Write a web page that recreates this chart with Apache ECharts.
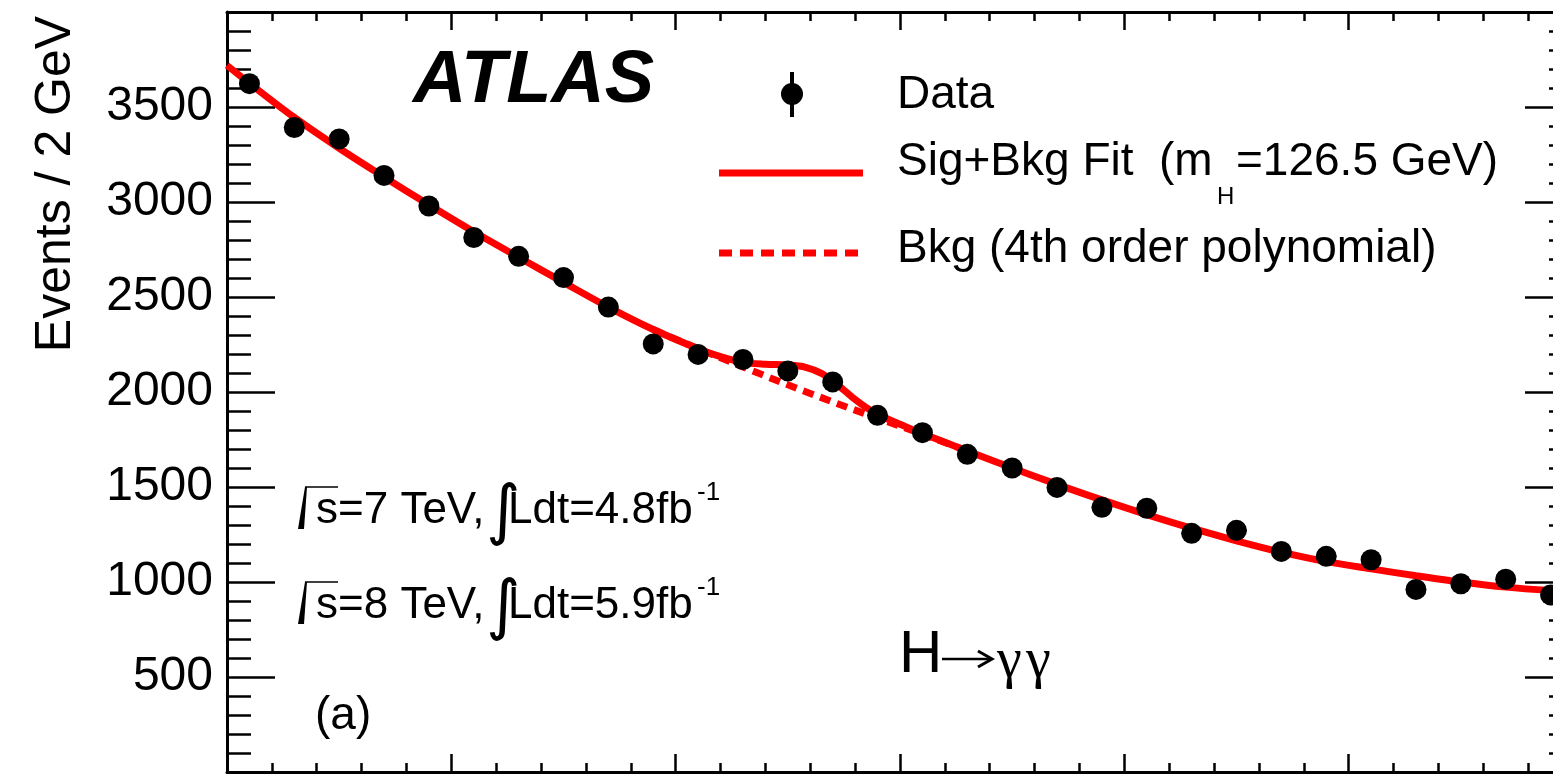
<!DOCTYPE html>
<html>
<head>
<meta charset="utf-8">
<script src="https://cdn.jsdelivr.net/npm/echarts@6/dist/echarts.min.js"></script>
<style>
  html, body { margin: 0; padding: 0; background: #fff; }
  #main { width: 1553px; height: 774px; }
</style>
</head>
<body>
<div id="main"></div>
<script>
// diphoton mass bins (GeV) and event counts
var binCenters = [101, 103, 105, 107, 109, 111, 113, 115, 117, 119,
                  121, 123, 125, 127, 129, 131, 133, 135, 137, 139,
                  141, 143, 145, 147, 149, 151, 153, 155, 157, 159];
var eventCounts = [3623, 3392, 3332, 3140, 2979, 2813, 2714, 2602, 2447, 2253,
                   2198, 2171, 2111, 2053, 1877, 1786, 1672, 1600, 1498, 1393,
                   1388, 1256, 1272, 1161, 1135, 1117, 961, 991, 1015, 932];

// sig+bkg fit curve
var fitMass = [100, 101, 103, 105, 107, 109, 111, 113, 115, 117,
               119, 121, 122, 123, 124, 125, 125.8, 126.5, 127, 127.5,
               128, 128.5, 129, 129.5, 130, 131, 133, 135, 137, 139,
               141, 143, 145, 147, 149, 151, 153, 155, 157, 159, 160];
var fitEvents = [3719, 3625, 3445, 3283, 3132, 2985, 2843, 2709, 2577, 2447,
                 2329, 2228, 2186, 2156, 2146, 2142, 2130, 2098, 2058, 2010,
                 1960, 1918, 1884, 1855, 1830, 1781, 1690, 1600, 1514, 1432,
                 1355, 1283, 1217, 1157, 1107, 1069, 1033, 1000, 973, 955, 950];

// background-only curve (where it separates from the fit)
var bkgMass = [119, 121, 123, 125, 127, 129, 131, 133];
var bkgEvents = [2329, 2228, 2132, 2038, 1948, 1862, 1778, 1690];

var yTickLabels = [500, 1000, 1500, 2000, 2500, 3000, 3500];

var FONT = '"Liberation Sans", Arial, Helvetica, sans-serif';
var RED = '#ff0000';

function pairs(xs, ys) {
  var out = [];
  for (var i = 0; i < xs.length; i++) out.push([xs[i], ys[i]]);
  return out;
}

function frameX(pos) {
  return {
    type: 'value', min: 100, max: 160, interval: 10, position: pos,
    axisLine: { show: true, onZero: false, lineStyle: { color: '#000', width: 3 } },
    axisTick: { show: true, inside: true, length: 18, lineStyle: { color: '#000', width: 2.5 } },
    minorTick: { show: true, splitNumber: 5, length: 9, lineStyle: { color: '#000', width: 2.5 } },
    axisLabel: { show: false },
    splitLine: { show: false }
  };
}

function frameY(pos, labels) {
  return {
    type: 'value', min: 0, max: 4000, interval: 500, position: pos,
    axisLine: { show: true, onZero: false, lineStyle: { color: '#000', width: 3 } },
    axisTick: { show: true, inside: true, length: 48, lineStyle: { color: '#000', width: 2.5 } },
    minorTick: { show: true, splitNumber: 5, length: 24, lineStyle: { color: '#000', width: 2.5 } },
    axisLabel: {
      show: labels, color: '#000', fontFamily: FONT, fontSize: 48, margin: 14,
      formatter: function (v) { return yTickLabels.indexOf(v) >= 0 ? String(v) : ''; }
    },
    splitLine: { show: false }
  };
}

function txt(x, y, s, size, extra) {
  var st = { text: s, fontSize: size, fontFamily: FONT, fill: '#000', align: 'left', verticalAlign: 'middle' };
  for (var k in (extra || {})) st[k] = extra[k];
  return { type: 'text', x: x, y: y, silent: true, style: st };
}

function lumiLine(cy, sqrtsText, lumiText) {
  return [
    { type: 'polygon', silent: true, shape: { points: [[298, cy + 18], [304, cy + 18], [307, cy - 24], [305, cy - 24]] }, style: { fill: '#000' } },
    { type: 'line', silent: true, shape: { x1: 305, y1: cy - 24, x2: 338, y2: cy - 24 }, style: { stroke: '#000', lineWidth: 1.5 } },
    txt(316, cy, sqrtsText, 44),
    txt(486, cy + 4, '\u222B', 66, { fontFamily: '"DejaVu Sans", sans-serif' }),
    txt(508, cy, lumiText, 44),
    txt(697, cy - 18, '-1', 26)
  ];
}

var chart = echarts.init(document.getElementById('main'));

var graphics = [
  // y title
  { type: 'text', x: 56, y: 184, rotation: Math.PI / 2, silent: true,
    style: { text: 'Events / 2 GeV', fontSize: 50, fontFamily: FONT, fill: '#000', align: 'center', verticalAlign: 'middle' } },
  // ATLAS label
  txt(413, 82, 'ATLAS', 74, { fontWeight: 'bold', fontStyle: 'italic' }),
  // legend
  { type: 'line', silent: true, shape: { x1: 792, y1: 72, x2: 792, y2: 117 }, style: { stroke: '#000', lineWidth: 4 } },
  { type: 'circle', silent: true, shape: { cx: 792, cy: 94, r: 11 }, style: { fill: '#000' } },
  txt(897, 95, 'Data', 46),
  { type: 'line', silent: true, shape: { x1: 719, y1: 173, x2: 863, y2: 173 }, style: { stroke: RED, lineWidth: 7 } },
  txt(897, 162, 'Sig+Bkg Fit  (m', 46),
  txt(1217, 197, 'H', 24),
  txt(1236, 162, '=126.5 GeV)', 46),
  { type: 'line', silent: true, shape: { x1: 719, y1: 253, x2: 863, y2: 253 }, style: { stroke: RED, lineWidth: 7, lineDash: [13, 8] } },
  txt(897, 249, 'Bkg (4th order polynomial)', 46),
  // panel tag and channel
  txt(315, 716, '(a)', 46),
  txt(899, 655, 'H', 60),
  { type: 'line', silent: true, shape: { x1: 942, y1: 659, x2: 991, y2: 659 }, style: { stroke: '#000', lineWidth: 2.5 } },
  { type: 'polyline', silent: true, shape: { points: [[978, 651], [992, 659], [978, 667]] }, style: { stroke: '#000', lineWidth: 3, fill: null } },
  txt(997, 662, '\u03B3', 56, { fontFamily: '"Liberation Serif", serif' }),
  txt(1026, 662, '\u03B3', 56, { fontFamily: '"Liberation Serif", serif' })
].concat(lumiLine(511, 's=7 TeV,', 'Ldt=4.8fb'), lumiLine(606, 's=8 TeV,', 'Ldt=5.9fb'));

chart.setOption({
  animation: false,
  backgroundColor: '#fff',
  grid: { left: 227, top: 12, width: 1346, height: 760, containLabel: false, outerBoundsMode: 'none' },
  xAxis: [frameX('bottom'), frameX('top')],
  yAxis: [frameY('left', true), frameY('right', false)],
  series: [
    {
      name: 'Bkg', type: 'line', xAxisIndex: 0, yAxisIndex: 0,
      data: pairs(bkgMass, bkgEvents), showSymbol: false, smooth: 0.33, z: 2,
      lineStyle: { color: RED, width: 7, type: [11, 7], cap: 'butt' }
    },
    {
      name: 'Sig+Bkg Fit', type: 'line', xAxisIndex: 0, yAxisIndex: 0,
      data: pairs(fitMass, fitEvents), showSymbol: false, smooth: 0.33, z: 3,
      lineStyle: { color: RED, width: 7 }
    },
    {
      name: 'Data', type: 'scatter', xAxisIndex: 0, yAxisIndex: 0,
      data: pairs(binCenters, eventCounts), symbol: 'circle', symbolSize: 21, z: 4,
      itemStyle: { color: '#000', opacity: 1 }
    }
  ],
  graphic: graphics
});
</script>
</body>
</html>
